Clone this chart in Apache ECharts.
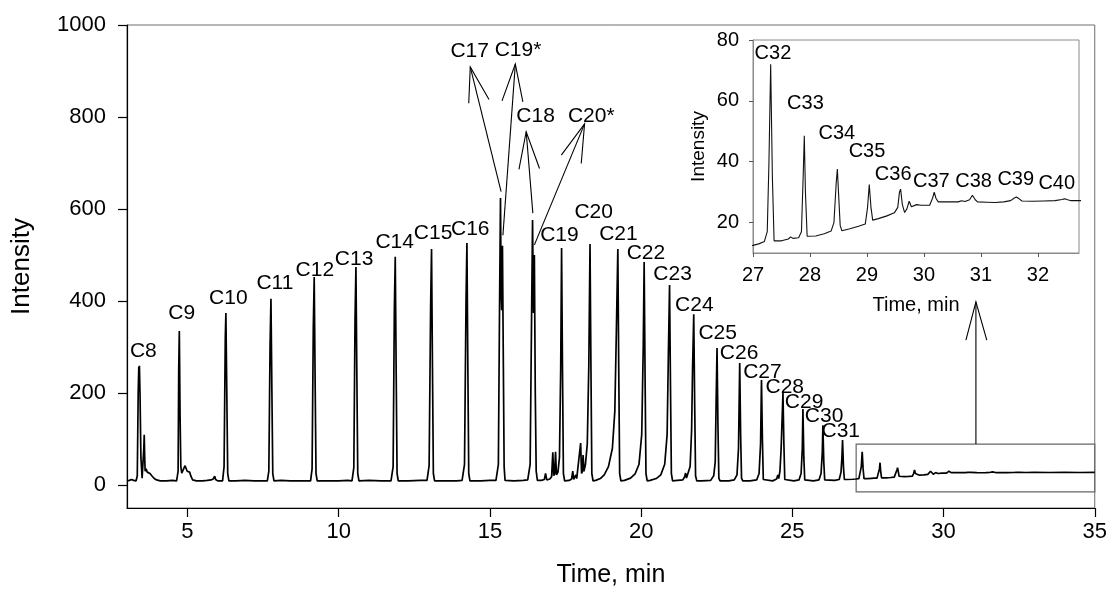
<!DOCTYPE html>
<html>
<head>
<meta charset="utf-8">
<script src="https://cdn.jsdelivr.net/npm/echarts@6/dist/echarts.min.js"></script>
<style>
html,body{margin:0;padding:0;background:#fff;}
#chart{width:1110px;height:601px;}
</style>
</head>
<body>
<div id="chart"></div>
<script>
// ---- chromatogram trace: [time (min), intensity] ----
const traceEarly = [[3.00,9],[3.08,10],[3.15,12],[3.22,10],[3.30,9],[3.34,20],[3.37,200],[3.39,257],[3.40,245],[3.41,259],[3.43,200],[3.46,60],[3.50,15],[3.53,13],[3.555,80],[3.57,109],[3.585,60],[3.60,30],[3.63,35],[3.67,28],[3.71,32],[3.76,25],[3.82,20],[3.90,14],[3.98,11],[4.10,9],[4.30,9],[4.50,10],[4.64,9],[4.69,30],[4.71,250],[4.73,335],[4.755,150],[4.78,40],[4.81,26],[4.86,30],[4.92,42],[4.95,40],[4.99,30],[5.03,33],[5.07,28],[5.12,18],[5.17,11],[5.30,9],[5.50,9],[5.65,10],[5.78,11],[5.85,13],[5.90,19],[5.93,12],[6.00,9],[6.16,9],[6.21,40],[6.25,320],[6.27,374],[6.30,200],[6.33,25],[6.37,9],[6.60,9],[6.90,10],[7.20,9],[7.50,9],[7.64,9],[7.69,30],[7.73,300],[7.76,405],[7.79,210],[7.82,25],[7.86,9],[8.10,10],[8.40,9],[8.80,9],[9.07,9],[9.12,35],[9.16,340],[9.19,452],[9.22,230],[9.25,25],[9.29,9],[9.60,9],[10.00,9],[10.30,10],[10.44,9],[10.50,38],[10.54,360],[10.57,474],[10.60,240],[10.63,25],[10.67,9],[11.00,10],[11.40,9],[11.73,9],[11.80,40],[11.84,380],[11.87,496],[11.90,250],[11.93,25],[11.97,9],[12.30,9],[12.70,10]];
const traceMiddle = [[12.92,10],[12.99,42],[13.04,390],[13.07,513],[13.10,260],[13.13,25],[13.17,9],[13.50,9],[13.90,9],[14.08,10],[14.16,45],[14.21,400],[14.24,526],[14.27,260],[14.30,25],[14.34,9],[14.70,9],[15.00,10],[15.20,10],[15.28,45],[15.32,400],[15.35,624],[15.37,420],[15.39,380],[15.415,520],[15.44,300],[15.47,40],[15.50,10],[15.80,9],[16.10,10],[16.25,11],[16.33,45],[16.38,380],[16.41,576],[16.44,374],[16.47,500],[16.50,200],[16.53,30],[16.57,10],[16.70,10],[16.80,12],[16.84,25],[16.88,11],[16.98,13],[17.04,18],[17.08,71],[17.11,20],[17.14,25],[17.17,72],[17.20,22],[17.25,28],[17.30,60],[17.34,250],[17.37,515],[17.40,250],[17.43,25],[17.47,9],[17.62,10],[17.70,13],[17.74,30],[17.77,12],[17.81,15],[17.84,22],[17.87,14],[17.93,18],[18.00,91],[18.03,25],[18.06,30],[18.08,65],[18.11,30],[18.16,45],[18.22,90],[18.27,260],[18.31,524],[18.34,260],[18.37,25],[18.41,9],[18.50,10],[18.65,14],[18.78,22],[18.92,40],[19.05,80],[19.13,160],[19.18,330],[19.23,513],[19.26,250],[19.29,25],[19.33,9],[19.45,10],[19.65,15],[19.80,24],[19.93,45],[20.02,110],[20.07,300],[20.10,485],[20.13,240],[20.16,25],[20.20,9],[20.30,10],[20.50,14],[20.65,22],[20.78,45],[20.86,110],[20.90,280],[20.94,435],[20.97,220],[21.00,25],[21.04,9]];
const traceLate = [[21.20,10],[21.38,11],[21.44,18],[21.47,26],[21.50,15],[21.56,18],[21.62,40],[21.67,120],[21.70,250],[21.74,371],[21.77,180],[21.80,20],[21.84,9],[22.00,9],[22.30,10],[22.40,20],[22.45,50],[22.48,180],[22.51,298],[22.54,130],[22.57,15],[22.61,9],[22.90,9],[23.08,11],[23.17,22],[23.22,80],[23.26,265],[23.29,110],[23.32,15],[23.36,9],[23.60,9],[23.82,11],[23.90,25],[23.95,90],[23.98,228],[24.01,100],[24.04,12],[24.08,9],[24.35,9],[24.48,13],[24.52,22],[24.55,14],[24.59,30],[24.63,80],[24.69,200],[24.72,90],[24.75,12],[24.79,9],[25.05,9],[25.22,11],[25.29,25],[25.33,80],[25.35,165],[25.38,60],[25.41,11],[25.45,9],[25.70,9],[25.88,11],[25.95,25],[25.99,70],[26.01,130],[26.04,50],[26.07,11],[26.12,9],[26.40,10],[26.55,12],[26.61,28],[26.64,60],[26.66,98],[26.69,40],[26.72,12],[26.80,12],[27.00,12.5]];
const traceTail = [[27.10,13],[27.20,13.8],[27.25,17],[27.28,40],[27.31,72],[27.34,35],[27.37,14],[27.39,13.5],[27.50,14],[27.62,14.6],[27.66,15.3],[27.70,14.8],[27.80,15],[27.85,17],[27.88,35],[27.90,48.5],[27.92,30],[27.95,15.5],[27.97,14.9],[28.10,15.6],[28.25,16.3],[28.37,17.2],[28.42,20],[28.46,33],[28.48,37.6],[28.50,30],[28.53,19],[28.56,17.3],[28.70,18],[28.85,18.8],[28.97,19.5],[29.01,25],[29.04,32.5],[29.07,25],[29.10,20.8],[29.20,21.3],[29.35,22.2],[29.48,23.2],[29.54,25],[29.57,30],[29.59,31],[29.62,26],[29.66,23.3],[29.70,24.5],[29.74,27],[29.78,25.2],[29.81,25],[29.87,25.9],[29.95,25.7],[30.10,25.7],[30.15,28],[30.18,30],[30.21,28],[30.25,26.8],[30.40,26.8],[30.60,26.8],[30.66,27.2],[30.72,26.9],[30.80,27.5],[30.85,29],[30.90,27.5],[30.94,26.8],[31.10,26.7],[31.25,26.6],[31.40,26.8],[31.52,27.2],[31.58,28],[31.62,28.4],[31.67,27.8],[31.72,27.1],[31.90,27.0],[32.10,27.1],[32.30,27.2],[32.42,27.6],[32.47,27.8],[32.52,27.5],[32.58,27.2],[32.72,27.2],[33.00,27.3],[33.50,27.2],[34.00,27.3],[34.50,27.2],[35.00,27.3]];

// ---- tick labels ----
const mainXTicks = [5,10,15,20,25,30,35];
const mainYTicks = [0,200,400,600,800,1000];
const insetXTicks = [27,28,29,30,31,32];
const insetYTicks = [20,40,60,80];

// ---- peak names and label anchors (time, intensity) ----
const mainPeakNames = ['C8','C9','C10','C11','C12','C13','C14','C15','C16','C17','C19*','C18','C20*','C19','C20','C21','C22','C23','C24','C25','C26','C27','C28','C29','C30','C31'];
const mainLabelTime = [3.54,4.81,6.35,7.89,9.21,10.51,11.85,13.12,14.35,14.33,15.93,16.51,18.35,17.30,18.43,19.25,20.16,21.04,21.76,22.53,23.24,24.01,24.75,25.39,26.05,26.60];
const mainLabelValue = [290,373,406,438,467,491,528,547,556,942,946,801,802,543,594,545,504,458,391,330,286,246,212,181,150,116];
const insetPeakNames = ['C32','C33','C34','C35','C36','C37','C38','C39','C40'];
const insetLabelTime = [27.35,27.92,28.47,29.00,29.46,30.13,30.87,31.61,32.33];
const insetLabelValue = [75.7,59.2,49.4,43.4,35.7,33.5,33.5,34.1,32.8];

// ---- pointer arrows (time, intensity) ----
const arrowHeads = [
  [[14.30,830],[14.35,909],[14.97,838]],
  [[15.40,835],[15.84,915],[16.09,833]],
  [[15.96,686],[16.20,768],[16.64,688]],
  [[17.36,717],[18.13,785],[18.02,699]],
  [[30.74,315],[31.07,398],[31.43,315]]
];
const arrowShafts = [
  [[14.35,909],[15.37,638]],
  [[15.84,915],[15.43,543]],
  [[16.20,768],[16.42,591]],
  [[18.13,785],[16.47,522]],
  [[31.07,398],[31.07,89]]
];
const zoomBox = [[27.11,89],[35,-15]];

const trace = traceEarly.concat(traceMiddle, traceLate, traceTail);
const FONT = 'Liberation Sans, Arial, sans-serif';
const plain = v => String(v);

const chart = echarts.init(document.getElementById('chart'), null, {renderer:'canvas'});
const labelStyle = (size) => ({show:true, position:'inside', formatter:'{b}', fontSize:size, color:'#000',
  opacity:1, fontFamily:FONT, textBorderWidth:0, textBorderColor:'transparent', textShadowBlur:0});
chart.setOption({
  animation:false,
  backgroundColor:'#fff',
  textStyle:{fontFamily:FONT},
  grid:[
    {left:127, top:25, width:969, height:483, show:true, borderColor:'#6e6e6e', borderWidth:1, backgroundColor:'transparent'},
    {left:753, top:40, width:326, height:213, show:true, borderColor:'#8a8a8a', borderWidth:1, backgroundColor:'#fff'}
  ],
  xAxis:[
    {type:'value', gridIndex:0, min:3, max:35,
     axisLine:{show:true, onZero:false, lineStyle:{color:'#000', width:1.2}},
     axisTick:{show:true, inside:false, length:9, customValues:mainXTicks, lineStyle:{color:'#000', width:1.2}},
     axisLabel:{customValues:mainXTicks, formatter:plain, fontSize:22, color:'#000', margin:13, fontFamily:FONT},
     splitLine:{show:false},
     name:'Time, min', nameLocation:'middle', nameGap:55,
     nameTextStyle:{fontSize:25, color:'#000', fontFamily:FONT}},
    {type:'value', gridIndex:1, min:27, max:32.72,
     axisLine:{show:true, onZero:false, lineStyle:{color:'#8a8a8a', width:1}},
     axisTick:{show:true, inside:false, length:4, customValues:insetXTicks, lineStyle:{color:'#555', width:1}},
     axisLabel:{customValues:insetXTicks, formatter:plain, fontSize:20, color:'#000', margin:12, fontFamily:FONT},
     splitLine:{show:false},
     name:'Time, min', nameLocation:'middle', nameGap:42,
     nameTextStyle:{fontSize:20, color:'#000', fontFamily:FONT}}
  ],
  yAxis:[
    {type:'value', gridIndex:0, min:-50, max:1000,
     axisLine:{show:true, onZero:false, lineStyle:{color:'#000', width:1.2}},
     axisTick:{show:true, inside:false, length:9, customValues:mainYTicks, lineStyle:{color:'#000', width:1.2}},
     axisLabel:{customValues:mainYTicks, formatter:plain, fontSize:22, color:'#000', margin:21, fontFamily:FONT},
     splitLine:{show:false},
     name:'Intensity', nameLocation:'middle', nameGap:92, nameRotate:90,
     nameTextStyle:{fontSize:26, color:'#000', fontFamily:FONT}},
    {type:'value', gridIndex:1, min:10, max:80,
     axisLine:{show:true, onZero:false, lineStyle:{color:'#8a8a8a', width:1}},
     axisTick:{show:true, inside:false, length:4, customValues:insetYTicks, lineStyle:{color:'#555', width:1}},
     axisLabel:{customValues:insetYTicks, formatter:plain, fontSize:20, color:'#000', margin:14, fontFamily:FONT},
     splitLine:{show:false},
     name:'Intensity', nameLocation:'middle', nameGap:45, nameRotate:90,
     nameTextStyle:{fontSize:19, color:'#000', fontFamily:FONT}}
  ],
  series:[
    {type:'line', xAxisIndex:0, yAxisIndex:0, data:trace, showSymbol:false, symbol:'none',
     lineStyle:{color:'#000', width:1.7}, silent:true, clip:true,
     markArea:{silent:true, itemStyle:{color:'rgba(0,0,0,0)', borderColor:'#666', borderWidth:1.2},
       data:[[{coord:zoomBox[0]},{coord:zoomBox[1]}]]}},
    {type:'line', xAxisIndex:1, yAxisIndex:1, data:trace, showSymbol:false, symbol:'none',
     lineStyle:{color:'#111', width:1.1}, silent:true, clip:true},
    {type:'lines', coordinateSystem:'cartesian2d', xAxisIndex:0, yAxisIndex:0, polyline:true, silent:true,
     lineStyle:{color:'#000', width:1.1, opacity:1},
     data:arrowHeads.concat(arrowShafts).map(c => ({coords:c}))},
    {type:'scatter', xAxisIndex:0, yAxisIndex:0, symbol:'circle', symbolSize:1, silent:true,
     itemStyle:{color:'rgba(0,0,0,0)', opacity:1}, label:labelStyle(21),
     data:mainPeakNames.map((n,i) => ({name:n, value:[mainLabelTime[i], mainLabelValue[i]]}))},
    {type:'scatter', xAxisIndex:1, yAxisIndex:1, symbol:'circle', symbolSize:1, silent:true,
     itemStyle:{color:'rgba(0,0,0,0)', opacity:1}, label:labelStyle(20),
     data:insetPeakNames.map((n,i) => ({name:n, value:[insetLabelTime[i], insetLabelValue[i]]}))}
  ]
});
</script>
</body>
</html>
